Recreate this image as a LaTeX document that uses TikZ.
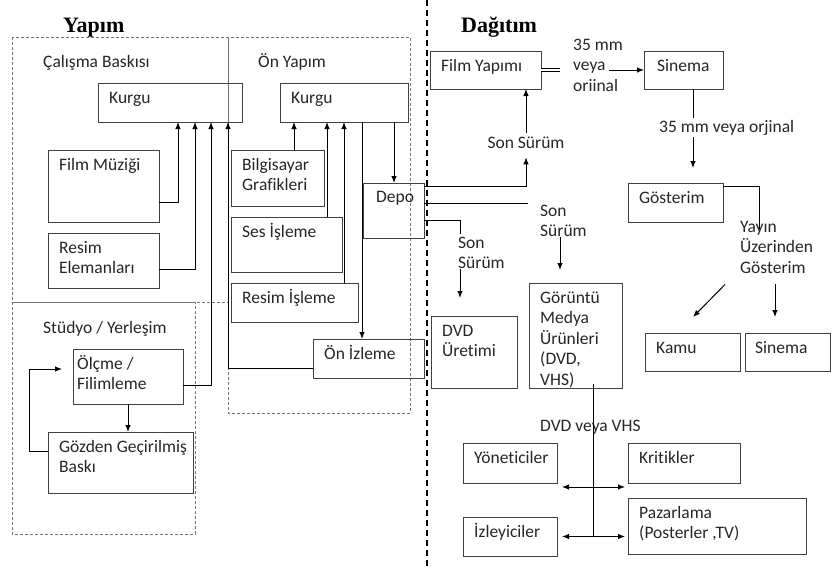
\documentclass[tikz,border=0pt]{standalone}
\usepackage{fontspec}
\setmainfont{Carlito}[Ligatures=NoCommon]
\newfontfamily\titlefont{Liberation Serif}
\usetikzlibrary{arrows.meta}

\begin{document}
\begin{tikzpicture}[x=1pt,y=-1pt,
  every node/.style={font=\fontsize{17.5}{20.5}\selectfont, text=black!85},
  box/.style={draw=black!75, line width=0.9pt, inner sep=0pt, outer sep=0pt, anchor=north west},
  lbl/.style={anchor=north west, inner sep=0pt, align=left, xshift=11pt, yshift=-5.6pt},
  note/.style={inner sep=0pt, align=left, anchor=north west},
  title/.style={font=\titlefont\bfseries\fontsize{22}{24}\selectfont, text=black, inner sep=0pt, anchor=base west},
  frame/.style={draw=black!55, line width=0.8pt, dash pattern=on 3pt off 2pt},
  link/.style={draw=black, line width=1pt},
  arr/.style={link, -{Latex[length=7pt,width=5.5pt]}},
  darr/.style={link, {Latex[length=7pt,width=5.5pt]}-{Latex[length=7pt,width=5.5pt]}},
]
\useasboundingbox (0,0) rectangle (831,566);

% ---------- group frames ----------
\draw[frame] (12,37) rectangle (228,302);
\draw[frame] (228,37) rectangle (410,413);
\draw[frame] (12,302) rectangle (195,534);
\draw[draw=black, line width=1.6pt, dash pattern=on 6pt off 4pt] (427,0) -- (427,566);

% ---------- headings ----------
\node[title] (tyap) at (63,32) {Yapım};
\node[title] (tdag) at (461,32) {Dağıtım};
\node[inner sep=0pt, anchor=base west] (hcal) at (43,67) {Çalışma Baskısı};
\node[inner sep=0pt, anchor=base west] (hon) at (258,67) {Ön Yapım};
\node[inner sep=0pt, anchor=base west] (hstu) at (43,333) {Stüdyo / Yerleşim};

% ---------- production boxes ----------
\node[box, minimum width=144pt, minimum height=39pt, label={[lbl]north west:{\strut Kurgu}}] (k1) at (98,83) {};
\node[box, minimum width=128pt, minimum height=39pt, label={[lbl]north west:{\strut Kurgu}}] (k2) at (280,83) {};
\node[box, minimum width=111pt, minimum height=72pt, label={[lbl]north west:{\strut Film Müziği}}] (fm) at (48,150) {};
\node[box, minimum width=111pt, minimum height=55pt, label={[lbl]north west:{\strut Resim\\Elemanları}}] (re) at (48,233) {};
\node[box, minimum width=93pt, minimum height=56pt, label={[lbl]north west:{\strut Bilgisayar\\Grafikleri}}] (bg) at (231,150) {};
\node[box, minimum width=111pt, minimum height=55pt, label={[lbl]north west:{\strut Ses İşleme}}] (ses) at (231,217) {};
\node[box, minimum width=127pt, minimum height=39pt, label={[lbl]north west:{\strut Resim İşleme}}] (ri) at (231,283) {};
\node[box, minimum width=61pt, minimum height=55pt, label={[lbl, xshift=2pt, yshift=1pt]north west:{\strut Depo}}] (dp) at (363,183) {};
\node[box, minimum width=111pt, minimum height=39pt, label={[lbl]north west:{\strut Ön İzleme}}] (oi) at (313,339) {};
\node[box, minimum width=110pt, minimum height=55pt, label={[lbl, xshift=-7pt]north west:{\strut Ölçme /\\Filimleme}}] (ol) at (73,349) {};
\node[box, minimum width=145pt, minimum height=61pt, label={[lbl]north west:{\strut Gözden Geçirilmiş\\Baskı}}] (gz) at (48,432) {};

% ---------- distribution boxes ----------
\node[box, minimum width=111pt, minimum height=38pt, label={[lbl]north west:{\strut Film Yapımı}}] (fy) at (430,51) {};
\node[box, minimum width=79pt, minimum height=38pt, label={[lbl, xshift=2pt]north west:{\strut Sinema}}] (sn) at (644,51) {};
\node[box, minimum width=95pt, minimum height=39pt, label={[lbl]north west:{\strut Gösterim}}] (gs) at (628,183) {};
\node[box, minimum width=95pt, minimum height=38pt, label={[lbl]north west:{\strut Kamu}}] (km) at (645,333) {};
\node[box, minimum width=85pt, minimum height=38pt, label={[lbl, xshift=-1pt]north west:{\strut Sinema}}] (s2) at (745,333) {};
\node[box, minimum width=86pt, minimum height=72pt, label={[lbl]north west:{\strut DVD\\Üretimi}}] (dv) at (431,316) {};
\node[box, minimum width=93pt, minimum height=105pt, label={[lbl]north west:{\strut Görüntü\\Medya\\Ürünleri\\(DVD,\\VHS)}}] (gm) at (529,283) {};
\node[box, minimum width=94pt, minimum height=40pt, label={[lbl]north west:{\strut Yöneticiler}}] (yo) at (463,443) {};
\node[box, minimum width=112pt, minimum height=40pt, label={[lbl]north west:{\strut Kritikler}}] (kr) at (628,443) {};
\node[box, minimum width=94pt, minimum height=39pt, label={[lbl]north west:{\strut İzleyiciler}}] (iz) at (463,517) {};
\node[box, minimum width=178pt, minimum height=56pt, label={[lbl]north west:{\strut Pazarlama\\(Posterler ,TV)}}] (pz) at (628,498) {};

% ---------- free labels ----------
\node[note] (mm) at (573,35.6) {\strut 35 mm\\veya\\oriinal};
\node[inner sep=3pt, anchor=base] (ss1) at (526,148) {Son Sürüm};
\node[note] (ss2) at (540,201.6) {\strut Son\\Sürüm};
\node[note] (ss3) at (458,233.6) {\strut Son\\Sürüm};
\node[note] (yy) at (740,217.6) {\strut Yayın\\Üzerinden\\Gösterim};
\node[inner sep=0pt, anchor=base west] (dvh) at (540,431) {DVD veya VHS};

% ---------- production connectors ----------
\draw[arr] ([yshift=-52pt]fm.north east) -| ([xshift=80pt]k1.south west);
\draw[arr] ([yshift=-36pt]re.north east) -| ([xshift=97pt]k1.south west);
\draw[arr] ([yshift=-36pt]ol.north east) -| ([xshift=113pt]k1.south west);
\draw[arr] ([yshift=-29pt]oi.north west) -| ([xshift=130pt]k1.south west);

\draw[arr] ([xshift=63pt]bg.north west) -- ([xshift=14pt]k2.south west);
\draw[arr] ([xshift=96pt]ses.north west) -- ([xshift=47pt]k2.south west);
\draw[arr] ([xshift=113pt]ri.north west) -- ([xshift=64pt]k2.south west);
\draw[arr] ([xshift=82pt]k2.south west) -- ([xshift=49pt]oi.north west);
\draw[arr] ([xshift=114pt]k2.south west) -- ([xshift=31pt]dp.north west);

\draw[arr] ([xshift=55pt]ol.south west) -- ([xshift=80pt]gz.north west);
\draw[arr, shorten >=11pt] ([yshift=-19pt]gz.north west) -- ++(-19,0) |- ([yshift=-20pt]ol.north west);

% ---------- distribution connectors ----------
\draw[arr, shorten >=6pt] ([yshift=-3pt]dp.north east) -| (ss1.south);
\draw[arr] (ss1.north) -- (ss1.north |- fy.south);

\draw[link] ([yshift=-20pt]dp.north east) -- ++(104,0);
\coordinate (gmin) at ([xshift=31pt]gm.north west);
\draw[arr, shorten >=13pt] (gmin |- ss2.south) -- (gmin);

\coordinate (dvin) at ([xshift=29pt]dv.north west);
\draw[link] ([yshift=-37pt]dp.north east) -| (dvin |- ss3.north);
\draw[arr, shorten >=18pt] (dvin |- ss3.south) -- (dvin);

\draw[link, double, double distance=1.5pt] (fy.east) -- ++(19,0);
\draw[arr] ([xshift=-35pt]sn.west) -- (sn.west);

\coordinate (sgx) at ([xshift=49pt]sn.south west);
\draw[arr, shorten >=15pt] (sgx) -- (sgx |- gs.north);
\node[fill=white, inner sep=2pt, anchor=base west] (mm2) at (657,132) {35 mm veya orjinal};

\draw[link] ([yshift=-3pt]gs.north east) -| ++(36,43);
\draw[arr] ([xshift=-15pt,yshift=-11pt]yy.south west) -- ([xshift=48pt,yshift=16pt]km.north west);
\draw[arr] ([xshift=35pt,yshift=-11pt]yy.south west) -- ([xshift=30pt,yshift=16pt]s2.north west);

\coordinate (vx) at ([xshift=64pt]gm.south west);
\draw[link] ([yshift=4pt]vx) -- (vx |- iz.east);
\coordinate (d1) at ([yshift=-4pt]yo.south east);
\draw[darr, shorten <=5pt, shorten >=3pt] (d1) -- (d1 -| kr.west);
\draw[darr, shorten <=5pt, shorten >=3pt] (iz.east) -- (iz.east -| pz.west);

\end{tikzpicture}
\end{document}
